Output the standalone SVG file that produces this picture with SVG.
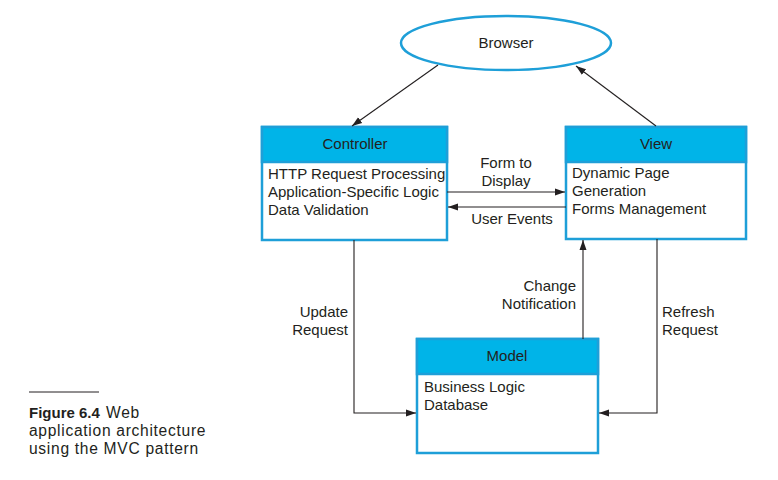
<svg xmlns="http://www.w3.org/2000/svg" width="778" height="480" viewBox="0 0 778 480">
<defs>
<marker id="ah" viewBox="0 0 10 10" refX="10" refY="5" markerWidth="10" markerHeight="10" markerUnits="userSpaceOnUse" orient="auto">
<path d="M0,1.5 L10,5 L0,8.5 Z" fill="#231f20"/>
</marker>
<style>
text{font-family:"Liberation Sans",Arial,sans-serif;font-size:15px;fill:#231f20}
.c{text-anchor:middle}
.r{text-anchor:end}
.cap{font-size:15.6px;letter-spacing:0.7px}
.box{fill:#fff;stroke:#1e9fd8;stroke-width:2.5}
.hd{fill:#00b4e8;stroke:#1e9fd8;stroke-width:2.5}
.ln{fill:none;stroke:#231f20;stroke-width:1.1}
</style>
</defs>
<rect width="778" height="480" fill="#fff"/>
<g id="browser">
<ellipse cx="506" cy="43" rx="105" ry="27" fill="#fff" stroke="#1e9fd8" stroke-width="2.5"/>
<text class="c" x="506" y="48">Browser</text>
</g>
<g id="controller">
<rect class="box" x="262" y="127" width="185" height="113"/>
<rect class="hd" x="262" y="127" width="185" height="35"/>
<text class="c" x="355" y="149">Controller</text>
<text x="268" y="179" font-size="14.6">HTTP Request Processing</text>
<text x="268" y="197">Application-Specific Logic</text>
<text x="268" y="215">Data Validation</text>
</g>
<g id="view">
<rect class="box" x="566" y="127" width="180" height="112"/>
<rect class="hd" x="566" y="127" width="180" height="35"/>
<text class="c" x="656" y="149">View</text>
<text x="572" y="178">Dynamic Page</text>
<text x="572" y="196">Generation</text>
<text x="572" y="214">Forms Management</text>
</g>
<g id="model">
<rect class="box" x="417" y="339" width="181" height="114"/>
<rect class="hd" x="417" y="339" width="181" height="35"/>
<text class="c" x="507" y="361">Model</text>
<text x="424" y="392">Business Logic</text>
<text x="424" y="410">Database</text>
</g>
<g id="connectors">
<line class="ln" x1="438" y1="65" x2="352" y2="126" marker-end="url(#ah)"/>
<line class="ln" x1="656" y1="126" x2="576" y2="66" marker-end="url(#ah)"/>
<line class="ln" x1="447" y1="192" x2="565" y2="192" marker-end="url(#ah)"/>
<line class="ln" x1="566" y1="207" x2="448" y2="207" marker-end="url(#ah)"/>
<polyline class="ln" points="354,240 354,413 416,413" marker-end="url(#ah)"/>
<polyline class="ln" points="657,239 657,413 599,413" marker-end="url(#ah)"/>
<line class="ln" x1="583" y1="339" x2="583" y2="240" marker-end="url(#ah)"/>
<text class="c" x="506" y="168">Form to</text>
<text class="c" x="506" y="186">Display</text>
<text class="c" x="512" y="224">User Events</text>
<text class="r" x="348" y="317">Update</text>
<text class="r" x="348" y="335">Request</text>
<text class="r" x="576" y="291">Change</text>
<text class="r" x="576" y="309">Notification</text>
<text x="662" y="317">Refresh</text>
<text x="662" y="335">Request</text>
</g>
<g id="caption">
<line x1="29" y1="392" x2="99" y2="392" stroke="#231f20" stroke-width="1"/>
<text class="cap" x="29" y="418"><tspan font-weight="bold" font-size="15" letter-spacing="0">Figure 6.4</tspan><tspan x="106">Web</tspan></text>
<text class="cap" x="29" y="436">application architecture</text>
<text class="cap" x="29" y="454">using the MVC pattern</text>
</g>
</svg>
